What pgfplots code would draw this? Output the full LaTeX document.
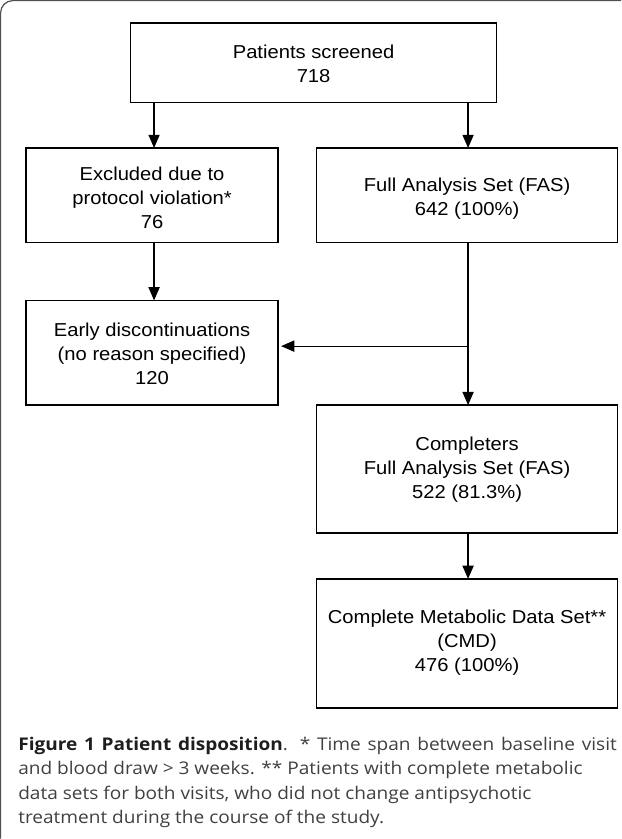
\documentclass[border=0pt]{standalone}
\usepackage{pgfplots}
\pgfplotsset{compat=1.18}
\usetikzlibrary{arrows.meta}
\usepackage{fontspec}
\setmainfont[FakeStretch=1.08]{Liberation Sans}
\newfontfamily\capfont[FakeStretch=1.09]{Open Sans}
\definecolor{frame}{HTML}{505050}
\definecolor{captxt}{HTML}{404040}
\definecolor{capbold}{HTML}{1E1E1E}
\begin{document}
\begin{tikzpicture}[
  boxtxt/.style={font=\fontsize{9.2}{11.8}\selectfont, align=center, inner sep=0pt},
  captxt/.style={anchor=base west, align=left, inner sep=0pt,
    font=\capfont\fontsize{8.6}{12}\selectfont, text=captxt},
]
% Flow chart in pixel units: x 0..622, y 0..839 (downwards), 1px = 0.5pt
\begin{axis}[
  scale only axis,
  width=311pt, height=419.5pt,
  xmin=0, xmax=622,
  ymin=0, ymax=839,
  y dir=reverse,
  hide axis,
  clip=true,
  boxline/.style={black, line width=0.65pt, line join=miter, mark=none},
  arr/.style={black, line width=0.6pt, mark=none, -{Triangle[length=6.5pt,width=5.5pt]}},
]

% outer frame (only top and left edges are inside the picture)
\addplot[frame, line width=0.6pt, rounded corners=6pt, mark=none]
  coordinates {(11,838.5) (11,14) (621.5,14)};

% boxes
\addplot[boxline] coordinates {(139,36) (499,36) (499,114) (139,114) (139,36) (499,36)};
\addplot[boxline] coordinates {(36,159) (284,159) (284,252) (36,252) (36,159) (284,159)};
\addplot[boxline] coordinates {(322,159) (618,159) (618,252) (322,252) (322,159) (618,159)};
\addplot[boxline] coordinates {(36,309) (284,309) (284,412) (36,412) (36,309) (284,309)};
\addplot[boxline] coordinates {(322,412) (618,412) (618,538) (322,538) (322,412) (618,412)};
\addplot[boxline] coordinates {(322,583) (618,583) (618,710) (322,710) (322,583) (618,583)};

% connectors
\addplot[arr] coordinates {(162,114) (162,159)};
\addplot[arr] coordinates {(471,114) (471,159)};
\addplot[arr] coordinates {(162,252) (162,309)};
\addplot[arr] coordinates {(471,252) (471,412)};
\addplot[arr] coordinates {(471,354) (287,354)};
\addplot[arr] coordinates {(471,538) (471,583)};

% box texts
\node[boxtxt] at (axis cs:319,76) {Patients screened\\718};
\node[boxtxt] at (axis cs:160,208) {Excluded due to\\protocol violation*\\76};
\node[boxtxt] at (axis cs:470,209) {Full Analysis Set (FAS)\\642 (100\%)};
\node[boxtxt] at (axis cs:160,362) {Early discontinuations\\(no reason specified)\\120};
\node[boxtxt] at (axis cs:470,476) {Completers\\Full Analysis Set (FAS)\\522 (81.3\%)};
\node[boxtxt] at (axis cs:470,646) {Complete Metabolic Data Set**\\(CMD)\\476 (100\%)};

% caption
\node[captxt] at (axis cs:28,752)
  {\makebox[294.5pt][s]{\textcolor{capbold}{\textbf{Figure 1 Patient disposition}}. * Time span between baseline visit}};
\node[captxt] at (axis cs:28,776) {and blood draw > 3 weeks. ** Patients with complete metabolic};
\node[captxt] at (axis cs:28,800) {data sets for both visits, who did not change antipsychotic};
\node[captxt] at (axis cs:28,824) {treatment during the course of the study.};

\end{axis}
\end{tikzpicture}
\end{document}
